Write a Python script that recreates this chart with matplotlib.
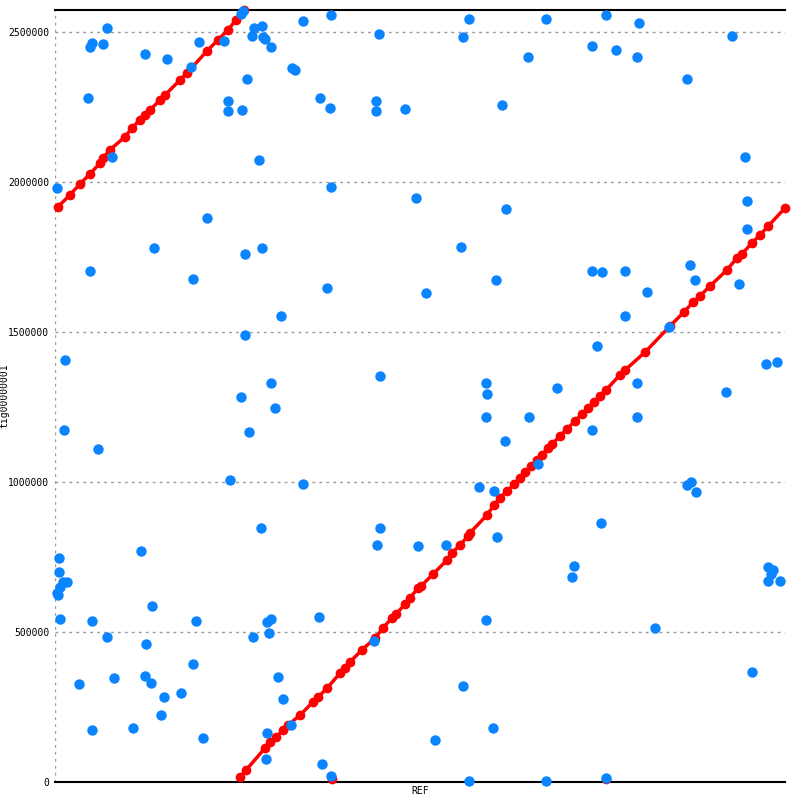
# dot plot of tig00000001 against REF (mummerplot style)
import matplotlib
matplotlib.use('Agg')
import matplotlib.pyplot as plt

# lengths in kb
ref_len = 2433
qry_len = 2573

# forward alignments (red), vertices in kb
seg1_x = [10, 50, 83, 117, 150, 160, 183, 233, 257, 283, 300, 317, 350, 367, 417, 440,
          507, 543, 577, 603, 630]
seg1_y = [1917, 1957, 1993, 2027, 2063, 2080, 2107, 2150, 2180, 2207, 2223, 2240, 2273,
          2290, 2340, 2363, 2437, 2473, 2507, 2540, 2573]

seg2_x = [617, 637, 700, 717, 737, 760, 777, 817, 860, 877, 907, 950, 967, 983, 1023,
          1067, 1093, 1123, 1137, 1167, 1183, 1210, 1220, 1260, 1307, 1323, 1350, 1377,
          1383, 1440, 1463, 1483, 1507, 1530, 1550, 1567, 1587, 1607, 1623, 1643, 1657,
          1683, 1707, 1733, 1757, 1777, 1797, 1817, 1837, 1883, 1900, 1967, 2050, 2097,
          2127, 2150, 2183, 2240, 2273, 2290, 2323, 2350, 2377, 2433]
seg2_y = [17, 40, 113, 133, 150, 173, 190, 223, 267, 283, 313, 363, 380, 400, 440, 480,
          513, 547, 560, 593, 613, 647, 653, 693, 740, 763, 790, 820, 830, 890, 923, 947,
          970, 993, 1013, 1033, 1053, 1073, 1090, 1113, 1127, 1153, 1177, 1203, 1227,
          1247, 1267, 1287, 1307, 1357, 1373, 1433, 1520, 1567, 1600, 1620, 1653, 1707,
          1747, 1760, 1797, 1823, 1853, 1913]

# short forward hits near the bottom
short_x = [923, 1837]
short_y = [10, 10]

# scattered hits (blue), kb
blue_x = [173, 123, 117, 160, 300, 373, 110, 480, 453, 563, 627, 620, 663, 690, 657, 693,
          700, 720, 827, 790, 800, 640, 577, 577, 623, 680, 190, 7, 507, 330, 633, 690,
          920, 883, 917, 1080, 1070, 1070, 1167, 920, 1380, 1360, 1637, 1837, 1947, 1790,
          1870, 1940, 1577, 1490, 1203, 1503, 1353, 1790, 1823, 1900, 1470, 2107, 2257,
          2300, 2307, 2307, 2280, 2117, 2133, 1973, 1900, 1807, 907, 1237, 753, 633, 1083,
          720, 620, 733, 647, 583, 827, 687, 1083, 460, 117, 33, 30, 143, 1437, 1440, 1673,
          1437, 1580, 1940, 1940, 1500, 1790, 1610, 1413, 1463, 1820, 1473, 1303, 1210,
          1073, 1730, 1723, 1437, 2000, 1360, 1460, 1380, 1637, 1837, 1267, 890, 920, 880,
          1063, 2047, 2370, 2407, 2237, 2107, 2120, 2137, 2377, 2393, 2387, 2377, 2417,
          2323, 287, 13, 13, 27, 40, 17, 7, 10, 323, 17, 123, 470, 707, 720, 713, 173, 660,
          303, 460, 743, 80, 197, 300, 320, 420, 363, 760, 353, 123, 260, 493, 707, 787,
          703]
blue_y = [2513, 2463, 2450, 2460, 2427, 2410, 2280, 2467, 2383, 2470, 2570, 2560, 2513,
          2520, 2487, 2483, 2477, 2450, 2537, 2380, 2373, 2343, 2270, 2237, 2240, 2073,
          2083, 1980, 1880, 1780, 1760, 1780, 2557, 2280, 2247, 2493, 2270, 2237, 2243,
          1983, 2543, 2483, 2543, 2557, 2530, 2453, 2440, 2417, 2417, 2257, 1947, 1910,
          1783, 1703, 1700, 1703, 1673, 2343, 2487, 2083, 1937, 1843, 1660, 1723, 1673,
          1633, 1553, 1453, 1647, 1630, 1553, 1490, 1353, 1330, 1283, 1247, 1167, 1007,
          993, 847, 847, 1677, 1703, 1407, 1173, 1110, 1330, 1293, 1313, 1217, 1217, 1330,
          1217, 1137, 1173, 1060, 983, 970, 863, 817, 790, 787, 790, 720, 683, 540, 513,
          320, 180, 3, 3, 13, 140, 60, 20, 550, 470, 1517, 1393, 1400, 1300, 990, 1000,
          967, 717, 707, 693, 670, 670, 367, 770, 747, 700, 667, 667, 650, 630, 623, 587,
          543, 537, 537, 533, 543, 497, 483, 483, 460, 393, 350, 327, 347, 353, 330, 297,
          283, 277, 223, 173, 180, 147, 163, 190, 77]

yticks = [0, 500000, 1000000, 1500000, 2000000, 2500000]

red = '#ff0000'
blue = '#0a84ff'

fig = plt.figure(figsize=(8, 8), dpi=100)
ax = fig.add_axes([55/800, 18/800, 730/800, 772/800])

# red forward matches
for xs, ys in [(seg1_x, seg1_y), (seg2_x, seg2_y)]:
    ax.plot([v*1000 for v in xs], [v*1000 for v in ys], color=red, lw=2.5,
            marker='o', markersize=7, markeredgewidth=0, clip_on=False, zorder=3)
ax.plot([v*1000 for v in short_x], [v*1000 for v in short_y], linestyle='none',
        color=red, marker='o', markersize=7, markeredgewidth=0, clip_on=False, zorder=3)

# blue hits on top
ax.plot([v*1000 for v in blue_x], [v*1000 for v in blue_y], linestyle='none',
        color=blue, marker='o', markersize=7.5, markeredgewidth=0, clip_on=False, zorder=4)

ax.set_xlim(0, ref_len*1000)
ax.set_ylim(0, qry_len*1000)

# axes look
for side in ['left', 'right']:
    ax.spines[side].set_visible(False)
for side in ['top', 'bottom']:
    ax.spines[side].set_linewidth(1.5)
    ax.spines[side].set_color('black')
ax.set_xticks([])
ax.set_yticks(yticks)
ax.set_yticklabels([str(t) for t in yticks], family='DejaVu Sans Mono', fontsize=7)
ax.tick_params(axis='y', length=0, pad=4)
ax.yaxis.grid(True, linestyle=(0, (2, 3)), color='#999999', lw=1)
ax.axvline(0, linestyle=(0, (2, 3)), color='#999999', lw=1)
ax.set_axisbelow(True)

ax.set_xlabel('REF', family='DejaVu Sans Mono', fontsize=7, labelpad=3)
ax.set_ylabel('tig00000001', family='DejaVu Sans Mono', fontsize=7)
ax.yaxis.set_label_coords(-0.062, 0.5)

plt.savefig('out.png', dpi=100)
